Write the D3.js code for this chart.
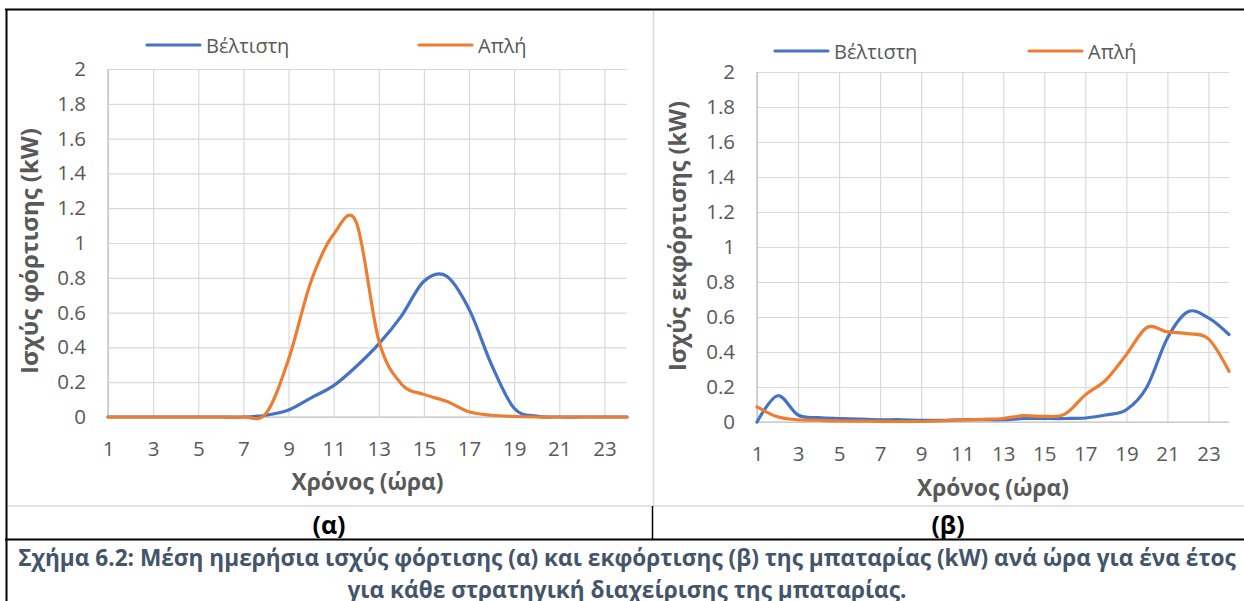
<!DOCTYPE html>
<html><head><meta charset="utf-8">
<script src="https://cdn.jsdelivr.net/npm/d3@7"></script>
<style>
html,body{margin:0;padding:0;background:#fff;}
svg{display:block;font-family:"Open Sans","Noto Sans",sans-serif;}
</style></head>
<body><svg id="c" width="1244" height="601"></svg>
<script>
// ---- data ----
const hours = [1,2,3,4,5,6,7,8,9,10,11,12,13,14,15,16,17,18,19,20,21,22,23,24];
const xTickLabels = [1,3,5,7,9,11,13,15,17,19,21,23];
const yTickValues = [0,0.2,0.4,0.6,0.8,1,1.2,1.4,1.6,1.8,2];
const seriesNames = ["Βέλτιστη","Απλή"];
const chargeOptimal = [0,0,0,0,0,0,0,0.01,0.04,0.11,0.18,0.29,0.42,0.58,0.78,0.81,0.62,0.3,0.05,0.005,0,0,0,0];
const chargeSimple  = [0,0,0,0,0,0,0,0.02,0.33,0.78,1.05,1.12,0.44,0.19,0.13,0.09,0.03,0.01,0.003,0,0,0,0,0];
const dischargeOptimal = [0,0.15,0.04,0.025,0.02,0.017,0.013,0.013,0.01,0.01,0.013,0.013,0.013,0.02,0.02,0.02,0.023,0.04,0.07,0.2,0.48,0.63,0.595,0.5];
const dischargeSimple  = [0.086,0.03,0.013,0.01,0.006,0.005,0.004,0.003,0.003,0.006,0.012,0.015,0.02,0.036,0.032,0.045,0.155,0.24,0.385,0.54,0.515,0.505,0.475,0.29];
const yTitles = ["Ισχύς φόρτισης (kW)","Ισχύς εκφόρτισης (kW)"];
const xTitle = "Χρόνος (ώρα)";
const panelLabels = ["(α)","(β)"];
const captionLines = ["Σχήμα 6.2: Μέση ημερήσια ισχύς φόρτισης (α) και εκφόρτισης (β) της μπαταρίας (kW) ανά ώρα για ένα έτος",
                      "για κάθε στρατηγική διαχείρισης της μπαταρίας."];

// ---- layout ----
const colors = ["#4472C4","#ED7D31"];
const svg = d3.select("#c");
const panels = [
  {x0:108,x1:627,yTop:69,yBot:417,series:[chargeOptimal,chargeSimple],legY:45,leg:[147,419],
   yTitleX:28,yTitleY:251,yTitleW:246,xTitleY:481,xLabY:448,yTitle:yTitles[0]},
  {x0:757,x1:1229,yTop:72,yBot:422,series:[dischargeOptimal,dischargeSimple],legY:51,leg:[775,1029],
   yTitleX:677,yTitleY:236,yTitleW:270,xTitleY:487,xLabY:453,yTitle:yTitles[1]}
];

function fit(sel, w){
  const n = sel.node();
  const fs = parseFloat(sel.attr("font-size"));
  const cur = n.getComputedTextLength();
  sel.attr("font-size", (fs*w/cur).toFixed(2));
}

panels.forEach((p,pi)=>{
  const g = svg.append("g");
  const x = d3.scaleLinear().domain([1,24]).range([p.x0,p.x1]);
  const y = d3.scaleLinear().domain([0,2]).range([p.yBot,p.yTop]);
  const ya = d3.axisLeft(y).tickValues(yTickValues).tickSize(-(p.x1-p.x0)).tickPadding(22)
      .tickFormat(d=>d3.format("~g")(d));
  const gy = g.append("g").attr("transform",`translate(${p.x0},0)`).call(ya);
  gy.select(".domain").remove();
  gy.selectAll(".tick line").attr("stroke","#d9d9d9").attr("stroke-width",1.2);
  gy.selectAll(".tick text").attr("fill","#595959").attr("font-size",20.5).attr("font-family","Open Sans");
  const xa = d3.axisBottom(x).tickValues(xTickLabels).tickSize(-(p.yBot-p.yTop)).tickPadding(0).tickFormat(d3.format("d"));
  const gx = g.append("g").attr("transform",`translate(0,${p.yBot})`).call(xa);
  gx.select(".domain").remove();
  gx.selectAll(".tick line").attr("stroke","#d9d9d9").attr("stroke-width",1.2);
  gx.selectAll(".tick text").attr("fill","#595959").attr("font-size",20.5).attr("font-family","Open Sans")
    .attr("dy",null).attr("y",p.xLabY-p.yBot).attr("dominant-baseline","central");
  g.append("line").attr("x1",p.x0).attr("x2",p.x0).attr("y1",p.yTop).attr("y2",p.yBot).attr("stroke","#bfbfbf").attr("stroke-width",1.2);
  g.append("line").attr("x1",p.x0).attr("x2",p.x1).attr("y1",p.yBot).attr("y2",p.yBot).attr("stroke","#bfbfbf").attr("stroke-width",1.2);
  const line = d3.line().x((d,i)=>x(hours[i])).y(d=>y(d)).curve(d3.curveCatmullRom.alpha(0));
  p.series.forEach((s,si)=>{
    g.append("path").datum(s).attr("d",line).attr("fill","none").attr("stroke",colors[si])
     .attr("stroke-width",3.2).attr("stroke-linecap","round").attr("stroke-linejoin","round");
  });
  seriesNames.forEach((nm,si)=>{
    const lx = p.leg[si];
    g.append("line").attr("x1",lx).attr("x2",lx+53).attr("y1",p.legY).attr("y2",p.legY)
      .attr("stroke",colors[si]).attr("stroke-width",3.2).attr("stroke-linecap","round");
    g.append("text").attr("x",lx+59).attr("y",p.legY).attr("dominant-baseline","central")
      .attr("font-size",20).attr("fill","#595959").text(nm);
  });
  const xt = g.append("text").attr("x",(p.x0+p.x1)/2).attr("y",p.xTitleY).attr("text-anchor","middle")
    .attr("dominant-baseline","central").attr("font-weight","bold").attr("font-size",22).attr("fill","#595959").text(xTitle);
  fit(xt,152);
  const yt = g.append("text").attr("transform",`translate(${p.yTitleX},${p.yTitleY}) rotate(-90)`)
    .attr("text-anchor","middle").attr("dominant-baseline","central").attr("font-weight","bold")
    .attr("font-size",22).attr("fill","#595959").text(p.yTitle);
  fit(yt,p.yTitleW);
});

// table borders
const b = svg.append("g");
b.append("line").attr("x1",8).attr("x2",1244).attr("y1",506).attr("y2",506).attr("stroke","#d9d9d9").attr("stroke-width",1.5);
b.append("line").attr("x1",653.5).attr("x2",653.5).attr("y1",10).attr("y2",506).attr("stroke","#d9d9d9").attr("stroke-width",1.5);
b.append("line").attr("x1",5).attr("x2",1244).attr("y1",9.5).attr("y2",9.5).attr("stroke","#000").attr("stroke-width",2);
b.append("line").attr("x1",6.5).attr("x2",6.5).attr("y1",9).attr("y2",601).attr("stroke","#000").attr("stroke-width",2);
b.append("line").attr("x1",5).attr("x2",1244).attr("y1",539.5).attr("y2",539.5).attr("stroke","#000").attr("stroke-width",2);
b.append("line").attr("x1",652.5).attr("x2",652.5).attr("y1",506).attr("y2",539).attr("stroke","#000").attr("stroke-width",1.5);

[329,948].forEach((cx,i)=>{
  const t = svg.append("text").attr("x",cx).attr("y",524).attr("text-anchor","middle").attr("dominant-baseline","central")
    .attr("font-weight","bold").attr("font-size",22).attr("fill","#000").text(panelLabels[i]);
  fit(t,33);
});
const c1 = svg.append("text").attr("x",627).attr("y",557).attr("text-anchor","middle").attr("dominant-baseline","central")
  .attr("font-weight","bold").attr("font-size",20).attr("fill","#44546A").text(captionLines[0]);
fit(c1,1218);
svg.append("text").attr("x",627).attr("y",589).attr("text-anchor","middle").attr("dominant-baseline","central")
  .attr("font-weight","bold").attr("font-size",c1.attr("font-size")).attr("fill","#44546A").text(captionLines[1]);
</script></body></html>
